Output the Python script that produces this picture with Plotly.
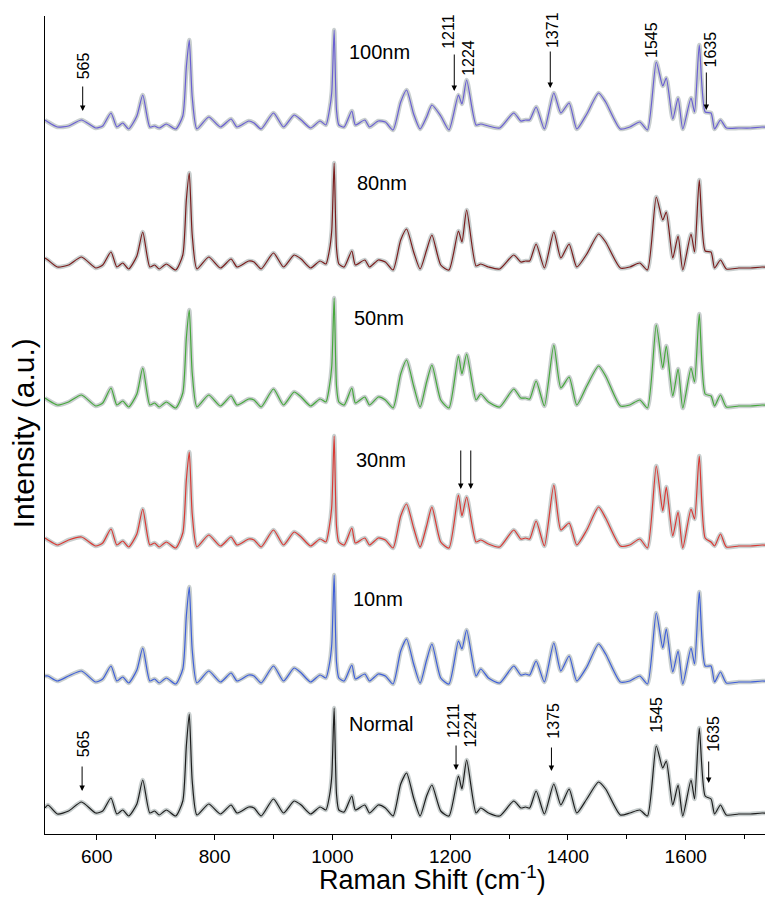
import plotly.graph_objects as go

# Raman shift positions (cm-1) of the read vertices, shared by all spectra
wavenumber = [
    512, 517, 533, 552, 574, 598, 610, 624, 634, 644,
    654, 668, 678, 690, 698, 706, 718, 734, 746, 752,
    757, 762, 770, 790, 810, 828, 838, 858, 867, 879,
    900, 917, 935, 947, 963, 979, 989, 995, 999, 1003,
    1007, 1011, 1020, 1033, 1039, 1055, 1063, 1078, 1090, 1103,
    1116, 1126, 1138, 1149, 1160, 1169, 1184, 1198, 1214, 1220,
    1228, 1244, 1252, 1265, 1284, 1308, 1320, 1328, 1335, 1346,
    1360, 1376, 1388, 1402, 1415, 1432, 1452, 1464, 1489, 1505,
    1522, 1535, 1550, 1561, 1567, 1578, 1587, 1595, 1609, 1615,
    1623, 1633, 1643, 1649, 1659, 1669, 1690, 1710, 1730, 1755,
]

# intensities (a.u.)
normal = [
    8, 11, 2, 5, 14, 3, 5, 18, 2, 6,
    0, 12, 36, 3, 5, 1, 6, 0, 15, 70,
    102, 35, 1, 12, 2, 11, 3, 9, 8, 0,
    17, 3, 15, 11, 2, 9, 6, 20, 40, 108,
    22, 6, 4, 20, 6, 11, 3, 11, 8, 0,
    32, 43, 18, 0, 20, 31, 5, 0, 40, 27,
    56, 3, 8, 3, 0, 15, 8, 9, 8, 25,
    2, 32, 11, 27, 3, 17, 34, 27, 1, 3,
    6, 0, 70, 48, 55, 11, 31, 0, 36, 17,
    88, 20, 17, 2, 11, 1, 2, 2, 3, 2,
]
nm10 = [
    8, 8, 3, 8, 13, 2, 5, 18, 3, 7,
    1, 14, 36, 3, 5, 1, 6, 0, 15, 68,
    97, 34, 1, 13, 2, 11, 3, 9, 8, 1,
    18, 3, 16, 11, 2, 9, 6, 20, 40, 109,
    22, 6, 3, 19, 5, 10, 3, 10, 8, 0,
    33, 45, 20, 1, 24, 40, 6, 0, 43, 35,
    54, 8, 15, 6, 1, 18, 9, 10, 9, 23,
    2, 41, 13, 28, 3, 17, 40, 30, 2, 3,
    8, 0, 71, 36, 55, 12, 33, 0, 36, 20,
    92, 18, 18, 2, 12, 1, 2, 2, 3, 2,
]
nm30 = [
    10, 8, 3, 8, 11, 2, 5, 19, 3, 7,
    1, 14, 39, 3, 5, 1, 6, 0, 15, 68,
    96, 34, 1, 13, 2, 11, 3, 9, 8, 1,
    18, 3, 16, 11, 2, 9, 6, 22, 42, 112,
    22, 6, 3, 20, 5, 10, 3, 10, 8, 0,
    32, 44, 20, 1, 22, 41, 6, 0, 53, 32,
    51, 6, 8, 4, 1, 18, 9, 10, 9, 27,
    2, 63, 18, 25, 3, 18, 41, 30, 2, 3,
    9, 0, 82, 37, 61, 12, 36, 0, 39, 29,
    92, 10, 6, 2, 14, 1, 2, 2, 3, 2,
]
nm50 = [
    10, 8, 3, 6, 13, 2, 5, 20, 3, 7,
    1, 14, 40, 3, 5, 1, 6, 0, 15, 70,
    98, 35, 1, 13, 2, 12, 3, 9, 8, 1,
    19, 3, 16, 11, 2, 9, 6, 22, 42, 110,
    22, 6, 3, 20, 5, 11, 3, 11, 8, 0,
    34, 48, 22, 1, 26, 43, 8, 0, 52, 34,
    54, 8, 14, 6, 1, 19, 10, 10, 9, 27,
    2, 63, 20, 31, 3, 22, 42, 32, 2, 3,
    8, 0, 83, 40, 62, 12, 39, 0, 40, 26,
    94, 14, 12, 2, 13, 1, 2, 2, 3, 2,
]
nm80 = [
    12, 10, 3, 5, 13, 2, 5, 18, 3, 7,
    1, 14, 38, 3, 5, 1, 6, 0, 15, 70,
    97, 35, 1, 13, 2, 11, 3, 9, 8, 1,
    17, 3, 15, 11, 2, 9, 6, 20, 40, 107,
    22, 6, 3, 19, 5, 10, 3, 10, 8, 0,
    30, 41, 18, 1, 20, 35, 5, 0, 39, 28,
    60, 4, 6, 3, 1, 15, 8, 9, 9, 26,
    2, 38, 12, 26, 3, 16, 36, 28, 2, 3,
    7, 0, 73, 50, 58, 12, 34, 0, 36, 18,
    90, 19, 18, 2, 10, 1, 2, 2, 3, 2,
]
nm100 = [
    10, 8, 3, 4, 10, 2, 4, 17, 3, 7,
    1, 14, 35, 3, 4, 2, 6, 1, 14, 63,
    90, 33, 1, 13, 3, 11, 3, 9, 7, 1,
    17, 3, 15, 10, 2, 9, 5, 20, 38, 100,
    20, 5, 3, 19, 5, 10, 3, 9, 8, 0,
    28, 40, 16, 1, 13, 25, 14, 0, 35, 26,
    50, 5, 6, 4, 2, 17, 9, 10, 10, 23,
    1, 37, 17, 27, 1, 16, 37, 28, 1, 3,
    8, 0, 68, 44, 52, 11, 32, 1, 32, 18,
    85, 18, 17, 1, 10, 2, 2, 2, 3, 2,
]

names = ["Normal", "10nm", "30nm", "50nm", "80nm", "100nm"]
spectra = [normal, nm10, nm30, nm50, nm80, nm100]
colors = ["#1e1e1e", "#3f5fd8", "#d93a35", "#46a83c", "#7a1d1d", "#6a5fd2"]
offsets = [18, 150, 286, 426, 564, 704]
label_pos = [(1025, 110), (1032, 235), (1036, 374), (1034, 516), (1038, 651), (1025, 782)]

# peak markers: arrows (x, tip, tail) and rotated numbers (text, x, y)
arrows = [(576, 723, 749), (1207, 743, 781), (1370, 746, 784), (1635, 724, 763),
          (575, 43, 69), (1210, 64, 90), (1372, 63, 88), (1639, 51, 74),
          (1218, 345, 385), (1235, 345, 385)]
peak_text = [("565", 577, 768), ("1211", 1196, 803), ("1224", 1230, 776),
             ("1371", 1373, 804), ("1545", 1541, 794), ("1635", 1642, 785),
             ("565", 577, 90), ("1211", 1205, 113), ("1224", 1233, 104),
             ("1375", 1374, 113), ("1545", 1549, 119), ("1635", 1646, 100)]

fig = go.Figure()
for name, s, c, off in zip(names, spectra, colors, offsets):
    y = [v + off for v in s]
    fig.add_trace(go.Scatter(x=wavenumber, y=y, mode="lines", showlegend=False,
                             line=dict(color="#c9cfcf", width=4.5, shape="spline", smoothing=0.6),
                             hoverinfo="skip"))
    fig.add_trace(go.Scatter(x=wavenumber, y=y, mode="lines", name=name, showlegend=False,
                             line=dict(color=c, width=1.2, shape="spline", smoothing=0.6)))

font = "Liberation Sans, Arial, sans-serif"
ann = []
for name, (lx, ly) in zip(names, label_pos):
    ann.append(dict(x=lx, y=ly, text=name, showarrow=False, xanchor="left", yanchor="middle",
                    font=dict(size=20, color="black", family=font)))
for x, tip, tail in arrows:
    ann.append(dict(x=x, y=tip, ax=x, ay=tail, axref="x", ayref="y", text="",
                    showarrow=True, arrowhead=2, arrowsize=1.1, arrowwidth=1, arrowcolor="black"))
for t, x, y in peak_text:
    ann.append(dict(x=x, y=y, text=t, showarrow=False, textangle=-90,
                    xanchor="center", yanchor="middle",
                    font=dict(size=16, color="black", family=font)))
ann.append(dict(x=0.53, y=-0.054, xref="paper", yref="paper", text="Raman Shift (cm<sup>-1</sup>)",
                showarrow=False, xanchor="center", yanchor="middle",
                font=dict(size=27, color="black", family=font)))
ann.append(dict(x=-0.03, y=0.49, xref="paper", yref="paper", text="Intensity (a.u.)",
                showarrow=False, textangle=-90, xanchor="center", yanchor="middle",
                font=dict(size=30, color="black", family=font)))

fig.update_layout(
    width=773, height=897,
    margin=dict(l=37, r=4, t=8, b=71),
    paper_bgcolor="white", plot_bgcolor="white",
    annotations=ann,
    xaxis=dict(range=[512, 1755], showgrid=False, zeroline=False, showline=True,
               linecolor="black", linewidth=1, ticks="outside", ticklen=5, tickcolor="black",
               tick0=600, dtick=200, minor=dict(dtick=100, ticks="outside", ticklen=4, tickcolor="black"),
               tickfont=dict(size=19, color="black", family=font)),
    yaxis=dict(range=[0, 818], showgrid=False, zeroline=False, showline=True,
               linecolor="black", linewidth=1, showticklabels=False, ticks=""),
)

fig.write_html("out.html")
